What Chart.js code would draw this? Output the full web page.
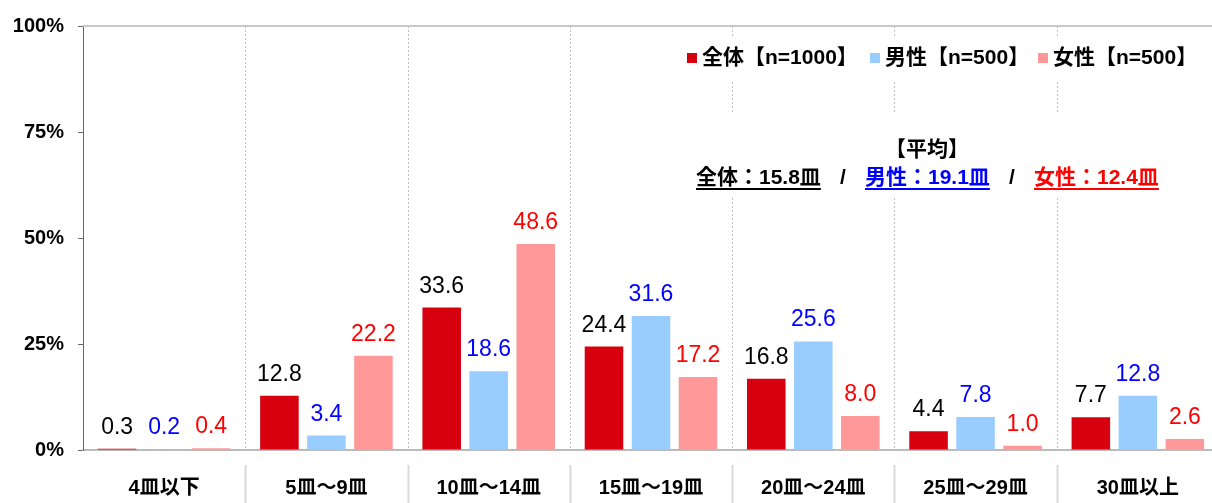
<!DOCTYPE html>
<html>
<head>
<meta charset="utf-8">
<script src="https://cdn.jsdelivr.net/npm/chart.js@4"></script>
<style>
    html, body { margin: 0; padding: 0; background: #fff; overflow: hidden; }
    #wrap { width: 1222px; height: 503px; }
</style>
</head>
<body>
<div id="wrap"><canvas id="dishChart" width="1222" height="503"></canvas></div>
<script>
const categories = ['4皿以下', '5皿～9皿', '10皿～14皿', '15皿～19皿', '20皿～24皿', '25皿～29皿', '30皿以上'];
const totalValues = [0.3, 12.8, 33.6, 24.4, 16.8, 4.4, 7.7];
const maleValues = [0.2, 3.4, 18.6, 31.6, 25.6, 7.8, 12.8];
const femaleValues = [0.4, 22.2, 48.6, 17.2, 8.0, 1.0, 2.6];
const seriesLabels = ['全体【n=1000】', '男性【n=500】', '女性【n=500】'];
const averageTitle = '【平均】';
const averageLabels = ['全体：15.8皿', '男性：19.1皿', '女性：12.4皿'];

const barColors = ['#D7000F', '#99CCFF', '#FF9999'];
const labelColors = ['#000000', '#0000FF', '#FF0000'];
const FONT = "'Liberation Sans', 'Noto Sans CJK JP', sans-serif";

// 区切り線（カテゴリ境界）
const separatorPlugin = {
    id: 'separators',
    beforeDatasetsDraw(chart) {
        const ctx = chart.ctx;
        const x = chart.scales.x;
        const area = chart.chartArea;
        ctx.save();
        for (let i = 0; i < categories.length - 1; i++) {
            const px = Math.round((x.getPixelForValue(i) + x.getPixelForValue(i + 1)) / 2) + 0.5;
            ctx.strokeStyle = '#BFBFBF';
            ctx.lineWidth = 1;
            ctx.setLineDash([2, 2]);
            ctx.beginPath();
            ctx.moveTo(px, area.top);
            ctx.lineTo(px, area.bottom);
            ctx.stroke();
            ctx.setLineDash([]);
            ctx.strokeStyle = '#D9D9D9';
            ctx.lineWidth = 2;
            ctx.beginPath();
            ctx.moveTo(px, area.bottom + 15);
            ctx.lineTo(px, chart.height);
            ctx.stroke();
        }
        // 上端の線
        ctx.strokeStyle = '#C8C8C8';
        ctx.lineWidth = 2;
        ctx.beginPath();
        ctx.moveTo(area.left, area.top);
        ctx.lineTo(area.right, area.top);
        ctx.stroke();
        ctx.restore();
    }
};

// 棒の上の数値
const valueLabelPlugin = {
    id: 'valueLabels',
    afterDatasetsDraw(chart) {
        const ctx = chart.ctx;
        ctx.save();
        ctx.font = '23px ' + FONT;
        ctx.textAlign = 'center';
        ctx.textBaseline = 'alphabetic';
        chart.data.datasets.forEach(function(ds, di) {
            ctx.fillStyle = labelColors[di];
            chart.getDatasetMeta(di).data.forEach(function(bar, i) {
                ctx.fillText(ds.data[i].toFixed(1), bar.x, bar.y - 15);
            });
        });
        ctx.restore();
    }
};

// 凡例と平均の注記
const annotationPlugin = {
    id: 'annotations',
    afterDraw(chart) {
        const ctx = chart.ctx;
        ctx.save();
        ctx.fillStyle = '#fff';
        ctx.fillRect(690, 36, 515, 45);
        ctx.fillRect(690, 113, 485, 83);

        ctx.font = 'bold 21px ' + FONT;
        ctx.textBaseline = 'middle';
        ctx.textAlign = 'left';
        const legendX = [687, 870, 1038];
        seriesLabels.forEach(function(label, i) {
            ctx.fillStyle = barColors[i];
            ctx.fillRect(legendX[i], 53, 10, 10);
            ctx.fillStyle = '#000';
            ctx.fillText(label, legendX[i] + 15, 58);
        });

        ctx.textAlign = 'center';
        ctx.fillStyle = '#000';
        ctx.fillText(averageTitle, 927, 150);

        ctx.textAlign = 'left';
        const avgX = [696, 865, 1034];
        averageLabels.forEach(function(label, i) {
            const w = ctx.measureText(label).width;
            ctx.fillStyle = labelColors[i];
            ctx.fillText(label, avgX[i], 178);
            ctx.fillRect(avgX[i], 188, w, 2);
        });
        ctx.fillStyle = '#000';
        ctx.textAlign = 'center';
        ctx.fillText('/', 843, 178);
        ctx.fillText('/', 1012, 178);
        ctx.restore();
    }
};

const config = {
    type: 'bar',
    data: {
        labels: categories,
        datasets: [
            { label: seriesLabels[0], data: totalValues, backgroundColor: barColors[0] },
            { label: seriesLabels[1], data: maleValues, backgroundColor: barColors[1] },
            { label: seriesLabels[2], data: femaleValues, backgroundColor: barColors[2] }
        ]
    },
    options: {
        responsive: false,
        animation: false,
        events: [],
        layout: { padding: { top: 22, right: 3, left: 0, bottom: 0 } },
        datasets: {
            bar: { categoryPercentage: 0.869, barPercentage: 0.82 }
        },
        plugins: {
            legend: { display: false },
            tooltip: { enabled: false }
        },
        scales: {
            x: {
                grid: { display: false, drawTicks: false },
                border: { display: true, color: '#BBBBBB', width: 2 },
                ticks: {
                    color: '#000',
                    padding: 26,
                    font: { family: FONT, size: 20, weight: 'bold' }
                },
                afterFit: function(scale) { scale.height = 53; }
            },
            y: {
                min: 0,
                max: 100,
                ticks: {
                    stepSize: 25,
                    color: '#000',
                    padding: 14,
                    font: { family: FONT, size: 20, weight: 'bold' },
                    callback: function(v) { return v + '%'; }
                },
                grid: { drawOnChartArea: false, drawTicks: true, tickLength: 5, color: '#666' },
                border: { display: true, color: '#666', width: 1 },
                afterFit: function(scale) { scale.width = 83; }
            }
        }
    },
    plugins: [separatorPlugin, valueLabelPlugin, annotationPlugin]
};

new Chart(document.getElementById('dishChart'), config);
</script>
</body>
</html>
